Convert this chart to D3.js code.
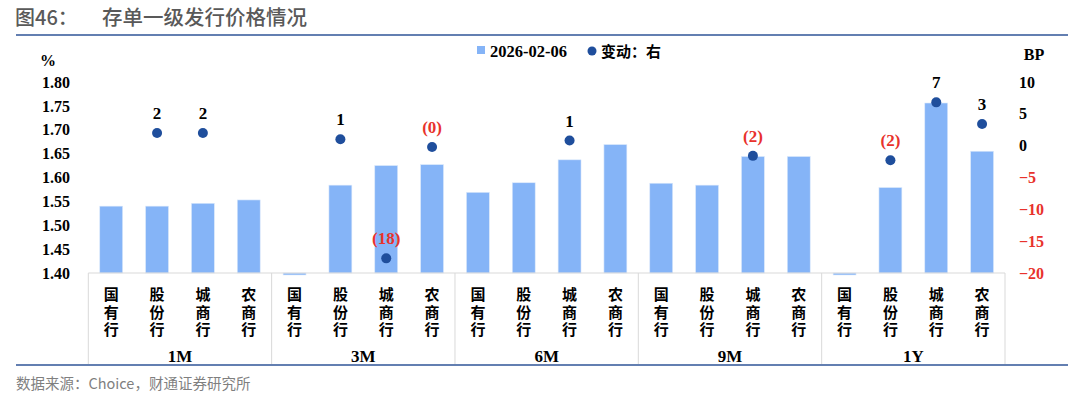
<!DOCTYPE html>
<html><head><meta charset="utf-8">
<script src="https://cdn.jsdelivr.net/npm/d3@7/dist/d3.min.js"></script>
<style>body{margin:0;background:#fff}svg{display:block}</style>
</head><body><svg id="c" width="1080" height="398"></svg>
<script>
const groups = ["1M","3M","6M","9M","1Y"];
const banks = ["国有行","股份行","城商行","农商行"];
const legendLabels = ["2026-02-06","变动：右"];
const leftTicks = [1.40,1.45,1.50,1.55,1.60,1.65,1.70,1.75,1.80];
const rightTicks = [-20,-15,-10,-5,0,5,10];
// rates (%) per group, banks order; 0 = no issuance
const rates1M = [1.540,1.540,1.546,1.553];
const rates3M = [0,1.584,1.625,1.627];
const rates6M = [1.569,1.589,1.637,1.669];
const rates9M = [1.588,1.584,1.644,1.644];
const rates1Y = [0,1.579,1.756,1.655];
// change (BP), null = no point
const chg1M = [null,2.0,2.0,null];
const chg3M = [null,1.0,-17.7,-0.2];
const chg6M = [null,null,0.8,null];
const chg9M = [null,null,-1.6,null];
const chg1Y = [null,-2.3,6.8,3.4];

const rates = [rates1M,rates3M,rates6M,rates9M,rates1Y];
const chgs = [chg1M,chg3M,chg6M,chg9M,chg1Y];
const data = [];
groups.forEach((g,gi)=>banks.forEach((b,bi)=>data.push({g,b,key:g+"|"+b,rate:rates[gi][bi],chg:chgs[gi][bi]})));

const svg = d3.select("#c");
const serif = "'Liberation Serif','Times New Roman',serif";
const cjk = "'Noto Sans CJK SC','Noto Sans',sans-serif";
const x0 = 88.3, x1 = 1005, yTop = 82, yBot = 273;
const x = d3.scaleBand().domain(data.map(d=>d.key)).range([x0,x1]).paddingInner(0.5).paddingOuter(0.25);
const yL = d3.scaleLinear().domain([1.40,1.80]).range([yBot,yTop]).clamp(true);
const yR = d3.scaleLinear().domain([-20,10]).range([yBot,yTop]);

// title
svg.append("text").attr("x",15).attr("y",25).attr("font-family",cjk).attr("font-size",20).attr("font-weight",500).attr("fill","#595959").text("图46：");
svg.append("text").attr("x",102).attr("y",25).attr("font-family",cjk).attr("font-size",20.5).attr("font-weight",500).attr("fill","#595959").text("存单一级发行价格情况");
svg.append("line").attr("x1",16).attr("x2",1068).attr("y1",35).attr("y2",35).attr("stroke","#2f5597").attr("stroke-width",1.5);
svg.append("line").attr("x1",16).attr("x2",1068).attr("y1",365).attr("y2",365).attr("stroke","#2f5597").attr("stroke-width",1.5);
svg.append("text").attr("x",16).attr("y",389).attr("font-family",cjk).attr("font-size",14.5).attr("fill","#7f7f7f").text("数据来源：Choice，财通证券研究所");

// legend
svg.append("rect").attr("x",477).attr("y",46).attr("width",8).attr("height",8).attr("fill","#85b4f7");
svg.append("text").attr("x",490).attr("y",56.5).attr("font-family",serif).attr("font-weight","bold").attr("font-size",16.5).attr("fill","#000").text(legendLabels[0]);
svg.append("circle").attr("cx",592).attr("cy",51).attr("r",4.5).attr("fill","#1f4e9c");
svg.append("text").attr("x",601).attr("y",57).attr("font-family",cjk).attr("font-weight","bold").attr("font-size",15).attr("fill","#000").text(legendLabels[1]);

// axes
const axL = svg.append("g").attr("transform",`translate(70,0)`).call(d3.axisLeft(yL).tickValues(leftTicks).tickFormat(d3.format(".2f")).tickSize(0).tickPadding(0));
axL.select(".domain").remove();
axL.selectAll("text").attr("font-family",serif).attr("font-weight","bold").attr("font-size",16).attr("fill","#000");
svg.append("text").attr("x",48).attr("y",66).attr("text-anchor","middle").attr("font-family",serif).attr("font-weight","bold").attr("font-size",16).text("%");

const axR = svg.append("g").attr("transform",`translate(1019,0)`).call(d3.axisRight(yR).tickValues(rightTicks).tickFormat(d3.format("d")).tickSize(0).tickPadding(0));
axR.select(".domain").remove();
axR.selectAll("text").attr("font-family",serif).attr("font-weight","bold").attr("font-size",16).attr("fill",d=>d<0?"#e8322c":"#000");
svg.append("text").attr("x",1034).attr("y",60).attr("text-anchor","middle").attr("font-family",serif).attr("font-weight","bold").attr("font-size",16).text("BP");

// bars
svg.append("g").selectAll("rect").data(data).join("rect")
  .attr("x",d=>x(d.key)).attr("width",x.bandwidth())
  .attr("y",d=>d.rate<1.40?yBot:yL(d.rate))
  .attr("height",d=>d.rate<1.40?2:yBot-yL(d.rate))
  .attr("fill","#85b4f7").attr("stroke","#dce9fb").attr("stroke-width",0.6);

// category axis box
const gw = (x1-x0)/groups.length;
svg.append("line").attr("x1",x0).attr("x2",x1).attr("y1",yBot).attr("y2",yBot).attr("stroke","#d9d9d9").attr("stroke-width",1);
d3.range(groups.length+1).forEach(i=>{
  svg.append("line").attr("x1",x0+i*gw).attr("x2",x0+i*gw).attr("y1",yBot).attr("y2",364).attr("stroke","#d9d9d9").attr("stroke-width",1);
});
const cat = svg.append("g");
data.forEach(d=>{
  const cx = x(d.key)+x.bandwidth()/2;
  [...d.b].forEach((ch,i)=>{
    cat.append("text").attr("x",cx).attr("y",300+i*17.5).attr("text-anchor","middle").attr("font-family",cjk).attr("font-weight","bold").attr("font-size",15).attr("fill","#000").text(ch);
  });
});
groups.forEach((g,i)=>{
  svg.append("text").attr("x",x0+gw*(i+0.5)).attr("y",362).attr("text-anchor","middle").attr("font-family",serif).attr("font-weight","bold").attr("font-size",17).attr("fill","#000").text(g);
});

// points
const pts = data.filter(d=>d.chg!==null);
svg.append("g").selectAll("circle").data(pts).join("circle")
  .attr("cx",d=>x(d.key)+x.bandwidth()/2).attr("cy",d=>yR(d.chg)).attr("r",5).attr("fill","#1f4e9c");
svg.append("g").selectAll("text").data(pts).join("text")
  .attr("x",d=>x(d.key)+x.bandwidth()/2).attr("y",d=>yR(d.chg)-14)
  .attr("text-anchor","middle").attr("font-family",serif).attr("font-weight","bold").attr("font-size",17)
  .attr("fill",d=>d.chg<0?"#e8322c":"#000")
  .text(d=>d.chg<0?`(${Math.round(-d.chg)})`:Math.round(d.chg));
</script></body></html>
